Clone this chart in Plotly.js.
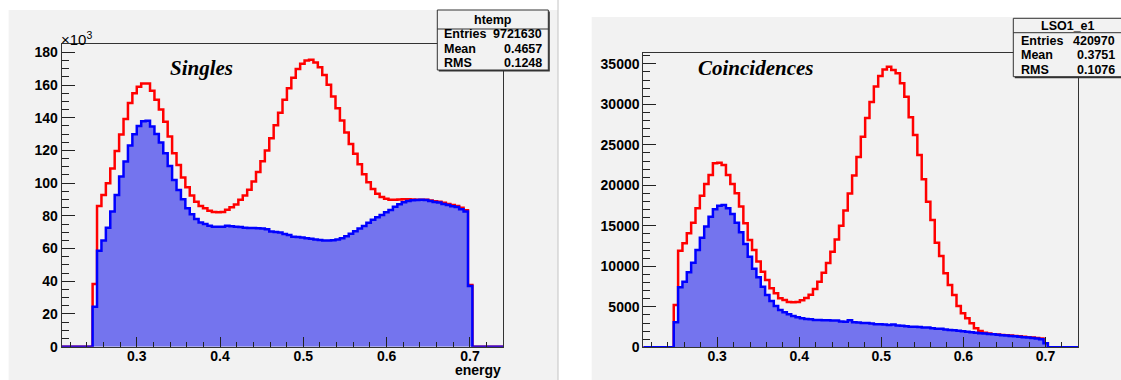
<!DOCTYPE html>
<html>
<head>
<meta charset="utf-8">
<script src="https://cdn.plot.ly/plotly-3.0.1.min.js"></script>
<style>
  html, body { margin: 0; padding: 0; background: #ffffff; }
  #chart { width: 1121px; height: 380px; }
</style>
</head>
<body>
<div id="chart"></div>
<script>
// ---------------- DATA ----------------
// Histogram binning (ROOT TH1, 100 bins over the axis range)
const xMin = 0.21;
const xMax = 0.74;
const nBins = 100;
const firstFilledBin = 7;   // bins before this are empty

// Singles panel (counts in units of 10^3)
const singlesAll = [38.4, 86, 92.8, 100, 109, 119.7, 129.7, 139.2, 149, 155, 159, 161, 161, 156.5, 151, 145, 137.5, 128.5,
  118.3, 111.1, 103.4, 97.5, 92.4, 88.7, 86.1, 84.6, 83.2, 82.4, 82.2, 82.4, 83.8, 85.2, 87, 89.8, 92.5, 96, 101, 106.8,
  113.4, 120, 127.5, 135.4, 143, 151, 158, 164.5, 169.8, 173, 175, 175.4, 173.8, 170.9, 166.2, 160.1, 153, 145.8, 138.3,
  131, 124, 118, 111.5, 105.5, 100.5, 96.5, 93.5, 91.5, 90.5, 89.9, 89.8, 90, 90.2, 90.1, 90, 89.9, 89.9, 89.8, 89.4, 89,
  88.6, 88, 87.3, 86.6, 86, 85, 83.5, 37.8];
const singlesSel = [24.5, 58.7, 64.9, 72.8, 82.6, 92.8, 104, 113.2, 123, 129.9, 135, 137.8, 138.2, 134.6, 130, 124.8, 118.3,
  110.5, 102, 95.8, 90.1, 84.6, 81, 78.1, 75.9, 75, 74, 73.4, 73.4, 73.4, 74, 73.6, 73.4, 73.2, 72.8, 72.6, 72.6, 72.4,
  72.2, 71.8, 70.4, 70.2, 69.8, 68.9, 68.3, 67.3, 67, 66.7, 66.3, 66, 65.6, 65.2, 65, 65, 65.1, 65.5, 66.3, 67.5, 69,
  70.6, 72.2, 73.8, 75.8, 77.6, 79.2, 80.6, 82.2, 83.6, 85.6, 87.1, 88.3, 89.1, 89.5, 89.7, 89.8, 89.7, 89.1, 88.5, 88.1,
  87.3, 86.7, 85.9, 85.4, 84, 82.6, 37.1];

// Coincidences panel (counts)
const coincAll = [5230, 11930, 12840, 14070, 15390, 17160, 18720, 20160, 21270, 22720, 22800, 22510, 21270, 20160, 19010,
  17370, 15310, 13250, 12000, 10580, 9340, 8310, 7280, 6670, 6050, 5840, 5600, 5550, 5600, 5800, 6100, 6500, 7200, 8100,
  9200, 10400, 11800, 13300, 15000, 16900, 19000, 21200, 23500, 26000, 28300, 30300, 32200, 33500, 34300, 34650, 34240,
  33830, 32590, 30950, 28400, 26210, 23750, 20740, 17980, 15720, 12920, 11280, 9140, 7700, 6460, 5100, 4200, 3580, 2960,
  2350, 2020, 1810, 1700, 1620, 1570, 1530, 1490, 1450, 1400, 1350, 1300, 1250, 1200, 1150, 1100, 500];
const coincSel = [3090, 7410, 8100, 9260, 10450, 12000, 13540, 14900, 16130, 17040, 17490, 17570, 17160, 16460, 15390,
  14200, 12760, 11190, 9710, 8640, 7490, 6460, 5720, 5100, 4610, 4320, 4070, 3870, 3700, 3580, 3500, 3460, 3380, 3380,
  3330, 3330, 3300, 3300, 3200, 3150, 3350, 3100, 3050, 3000, 3000, 2950, 2850, 2850, 2800, 2750, 2800, 2700, 2650, 2600,
  2550, 2550, 2500, 2450, 2450, 2350, 2300, 2300, 2200, 2150, 2100, 2050, 1980, 1920, 1850, 1800, 1750, 1700, 1650, 1600,
  1550, 1500, 1450, 1400, 1350, 1300, 1250, 1200, 1150, 1100, 1000, 500];

// Texts
const panelTitles = ["Singles", "Coincidences"];
const xAxisTitle = "energy";
const yExponentLabel = "\u00d710<sup>3</sup>";
const statsLeft = { name: "htemp", rows: [["Entries", "9721630"], ["Mean", "0.4657"], ["RMS", "0.1248"]] };
const statsRight = { name: "LSO1_e1", rows: [["Entries", "420970"], ["Mean", "0.3751"], ["RMS", "0.1076"]] };
const yMaxLeft = 184.9;
const yMaxRight = 36300;

// ---------------- BUILD ----------------
const W = 1121, H = 380;
const fx = px => px / W;
const fy = py => 1 - py / H;

function histXY(vals) {
  const edges = [], ys = [];
  const bw = (xMax - xMin) / nBins;
  const full = new Array(nBins).fill(0);
  vals.forEach((v, i) => { full[firstFilledBin + i] = v; });
  for (let i = 0; i <= nBins; i++) {
    edges.push(xMin + i * bw);
    ys.push(i < nBins ? full[i] : full[nBins - 1]);
  }
  return { x: edges, y: ys };
}

const RED = "#ff0000", BLUE = "#0000ff", FILL = "rgb(116,116,238)";
const LW = 2.5;

function traces(allVals, selVals, xa, ya) {
  const a = histXY(allVals), s = histXY(selVals);
  return [
    { type: "scatter", mode: "lines", x: a.x, y: a.y, xaxis: xa, yaxis: ya,
      line: { shape: "hv", color: RED, width: LW }, hoverinfo: "skip", showlegend: false },
    { type: "scatter", mode: "lines", x: s.x, y: s.y, xaxis: xa, yaxis: ya, fill: "tozeroy", fillcolor: FILL,
      line: { shape: "hv", color: BLUE, width: LW }, hoverinfo: "skip", showlegend: false }
  ];
}

const data = [].concat(traces(singlesAll, singlesSel, "x", "y"), traces(coincAll, coincSel, "x2", "y2"));

const FONT = "Liberation Sans, Arial, Helvetica, sans-serif";
const SERIF = "Liberation Serif, Times New Roman, serif";
const tickFont = { family: FONT, size: 14, color: "#000", weight: "bold" };

function xAxis(domain, anchor) {
  return {
    domain: domain, anchor: anchor, range: [xMin, xMax], tickmode: "linear", tick0: 0.3, dtick: 0.1,
    tickformat: ".1f", ticks: "inside", ticklen: 10, tickwidth: 1, tickcolor: "#222",
    showline: true, mirror: true, linecolor: "#333", linewidth: 1, showgrid: false, zeroline: false,
    tickfont: tickFont, fixedrange: true, ticklabelstandoff: -4,
    minor: { dtick: 0.02, ticks: "inside", ticklen: 5, tickwidth: 1, tickcolor: "#222", showgrid: false }
  };
}
function yAxis(domain, anchor, ymax, dt, mdt, fmt) {
  return {
    domain: domain, anchor: anchor, range: [0, ymax], tickmode: "linear", tick0: 0, dtick: dt,
    tickformat: fmt, ticks: "inside", ticklen: 13, tickwidth: 1, tickcolor: "#222",
    showline: true, mirror: true, linecolor: "#333", linewidth: 1, showgrid: false, zeroline: false,
    tickfont: tickFont, fixedrange: true,
    minor: { dtick: mdt, ticks: "inside", ticklen: 7, tickwidth: 1, tickcolor: "#222", showgrid: false }
  };
}

const L = { x0: 61.7, x1: 503.3, y0: 44.3, y1: 346.7 };
const R = { x0: 643.3, x1: 1078.3, y0: 53.3, y1: 347.3 };

const shapes = [];
const annotations = [];
function rectPx(x0, y0, x1, y1, fill, line, layer) {
  shapes.push({ type: "rect", xref: "paper", yref: "paper", x0: fx(x0), x1: fx(x1), y0: fy(y1), y1: fy(y0),
    fillcolor: fill, line: line || { width: 0 }, layer: layer || "below" });
}
function linePx(x0, y0, x1, y1, color, width, layer) {
  shapes.push({ type: "line", xref: "paper", yref: "paper", x0: fx(x0), x1: fx(x1), y0: fy(y0), y1: fy(y1),
    line: { color: color, width: width }, layer: layer || "below" });
}
function textPx(txt, x, y, xanchor, font) {
  annotations.push({ text: txt, xref: "paper", yref: "paper", x: fx(x), y: fy(y), xanchor: xanchor,
    yanchor: "middle", showarrow: false, font: font });
}

// pads
rectPx(8.6, 10, 558, 380, "#f2f2f2");
rectPx(591.7, 17, 1121, 380, "#f2f2f2");
linePx(558, 0, 558, 380, "#c4c4c4", 1);

// stats boxes
function statBox(b, st) {
  rectPx(b.x0 + 1.5, b.y0 + 1.5, b.x1 + 1.5, b.y1 + 1.5, "#333", null, "above");
  rectPx(b.x0, b.y0, b.x1, b.y1, "#f2f2f2", { color: "#333", width: 1 }, "above");
  linePx(b.x0, b.hy, b.x1, b.hy, "#333", 1, "above");
  const sf = { family: FONT, size: 12.5, color: "#000", weight: "bold" };
  textPx(st.name, (b.x0 + b.x1) / 2, (b.y0 + b.hy) / 2 + 0.5, "center", sf);
  st.rows.forEach((r, i) => {
    textPx(r[0], b.tl, b.ry[i], "left", sf);
    textPx(r[1], b.tr, b.ry[i], "right", sf);
  });
}
statBox({ x0: 437.3, y0: 10, x1: 548.3, y1: 70, hy: 29, tl: 442, tr: 544, ry: [33.8, 48.5, 63] }, statsLeft);
statBox({ x0: 1013.3, y0: 18.3, x1: 1123.3, y1: 76.7, hy: 32.7, tl: 1018.5, tr: 1117, ry: [41, 55.3, 70] }, statsRight);

// panel texts
const titleFont = { family: SERIF, size: 21, color: "#000", weight: "bold", style: "italic" };
textPx(panelTitles[0], 201.5, 68, "center", titleFont);
textPx(panelTitles[1], 756, 68, "center", titleFont);
textPx(xAxisTitle, 503, 370, "right", { family: FONT, size: 14, color: "#000", weight: "bold" });
textPx(yExponentLabel, 59, 39, "left", { family: FONT, size: 15, color: "#000" });

const layout = {
  width: W, height: H,
  margin: { l: 0, r: 0, t: 0, b: 0, pad: 0 },
  paper_bgcolor: "#ffffff", plot_bgcolor: "#f2f2f2",
  showlegend: false,
  xaxis: xAxis([fx(L.x0), fx(L.x1)], "y"),
  yaxis: yAxis([fy(L.y1), fy(L.y0)], "x", yMaxLeft, 20, 5, "d"),
  xaxis2: xAxis([fx(R.x0), fx(R.x1)], "y2"),
  yaxis2: yAxis([fy(R.y1), fy(R.y0)], "x2", yMaxRight, 5000, 1000, "d"),
  shapes: shapes,
  annotations: annotations
};

Plotly.newPlot("chart", data, layout, { displayModeBar: false, staticPlot: true });
</script>
</body>
</html>
